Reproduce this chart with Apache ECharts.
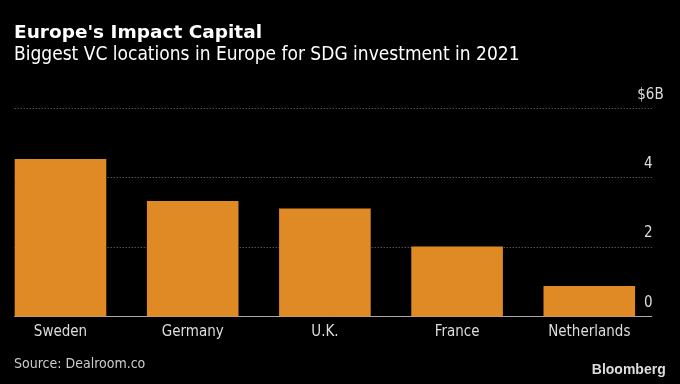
<!DOCTYPE html>
<html><head><meta charset="utf-8">
<script src="https://cdn.jsdelivr.net/npm/echarts@6/dist/echarts.min.js"></script>
<style>html,body{margin:0;padding:0;background:#000}#c{width:680px;height:384px}</style>
</head><body><div id="c"></div>
<script>
const categories = ['Sweden', 'Germany', 'U.K.', 'France', 'Netherlands'];
const values = [4.54, 3.33, 3.11, 2.02, 0.88];
const yTicks = [0, 2, 4, 6];
const yMax = yTicks[yTicks.length - 1];
const FONT = '"DejaVu Sans Condensed", "DejaVu Sans", sans-serif';

const labelBase = {inside: true, color: '#ddd', fontFamily: FONT, fontSize: 15,
  verticalAlign: 'bottom', padding: [0, 0, 6, 0]};

const chart = echarts.init(document.getElementById('c'), null, {renderer: 'canvas'});
chart.setOption({
  backgroundColor: '#000',
  animation: false,
  title: [
    {text: "Europe's Impact Capital", left: 9, top: 18.5,
     textStyle: {color: '#fff', fontFamily: '"DejaVu Sans", sans-serif', fontWeight: 'bold', fontSize: 18.5}},
    {text: 'Biggest VC locations in Europe for SDG investment in 2021', left: 9, top: 40.6,
     textStyle: {color: '#fff', fontFamily: FONT, fontWeight: 'normal', fontSize: 19}},
    {text: 'Source: Dealroom.co', left: 9, top: 352.5,
     textStyle: {color: '#ccc', fontFamily: FONT, fontWeight: 'normal', fontSize: 14}},
    {text: 'Bloomberg', right: 9.3, top: 358,
     textStyle: {color: '#ddd', fontFamily: '"Liberation Sans", Arial, sans-serif', fontWeight: 'bold', fontSize: 14}}
  ],
  grid: [
    {left: 14.7, right: 28.3, top: 108.3, bottom: 67.5, outerBoundsMode: 'none', containLabel: false},
    {left: -5.6, right: 24.6, top: 108.3, bottom: 67.5, outerBoundsMode: 'none', containLabel: false}
  ],
  xAxis: [
    {type: 'category', gridIndex: 0, data: categories, show: true,
     axisLine: {show: true, lineStyle: {color: '#aaa', width: 1}},
     axisTick: {show: false}, axisLabel: {show: false}, splitLine: {show: false}},
    {type: 'category', gridIndex: 1, data: categories,
     axisLine: {show: false}, axisTick: {show: false},
     axisLabel: {color: '#ddd', fontFamily: FONT, fontSize: 15, margin: 8}}
  ],
  yAxis: [
    {type: 'value', gridIndex: 0, position: 'right', min: 0, max: yMax, interval: 2,
     axisLine: {show: false}, axisTick: {show: false},
     splitLine: {show: true, lineStyle: {color: '#777', type: [1, 2], width: 1}},
     axisLabel: Object.assign({}, labelBase, {margin: -1,
       formatter: v => v === yMax ? '' : String(v)})},
    {type: 'value', gridIndex: 0, position: 'right', min: 0, max: yMax, interval: 2,
     axisLine: {show: false}, axisTick: {show: false}, splitLine: {show: false},
     axisLabel: Object.assign({}, labelBase, {margin: -12,
       formatter: v => v === yMax ? '$' + v + 'B' : ''})},
    {type: 'value', gridIndex: 1, min: 0, max: yMax, interval: 2, show: false}
  ],
  series: [{
    type: 'bar', xAxisIndex: 1, yAxisIndex: 2, data: values,
    barWidth: 91.6, itemStyle: {color: '#DF8A25'}, silent: true, z: 3
  }]
});
</script></body></html>
